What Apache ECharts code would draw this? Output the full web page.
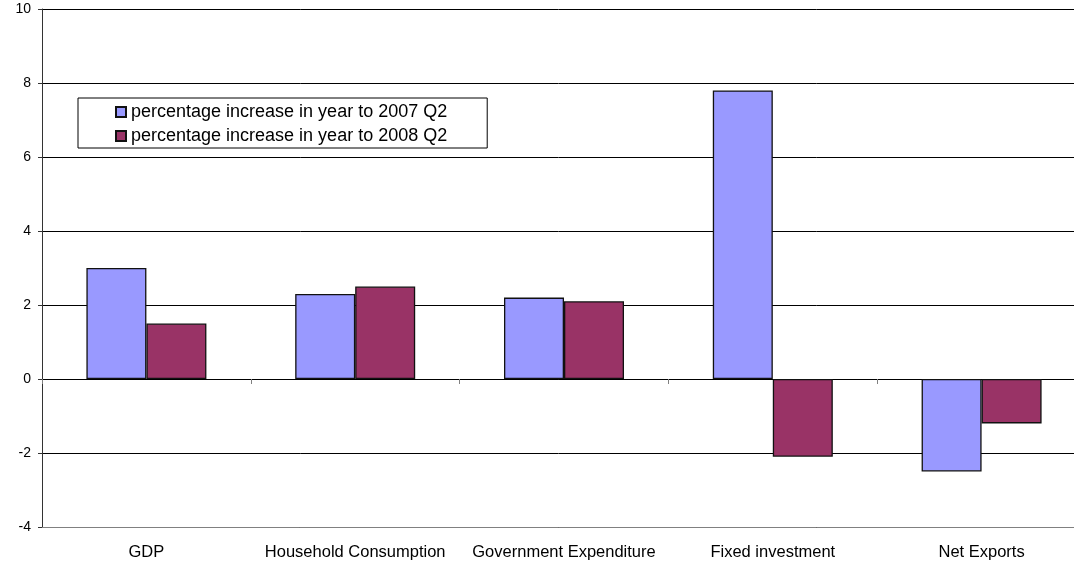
<!DOCTYPE html>
<html>
<head>
<meta charset="utf-8">
<script src="https://cdn.jsdelivr.net/npm/echarts@6/dist/echarts.min.js"></script>
<style>
  html, body { margin: 0; padding: 0; background: #fff; }
  #chart { width: 1074px; height: 563px; }
</style>
</head>
<body>
<div id="chart"></div>
<script>
  var categories = ['GDP', 'Household Consumption', 'Government Expenditure', 'Fixed investment', 'Net Exports'];
  var seriesNames = ['percentage increase in year to 2007 Q2', 'percentage increase in year to 2008 Q2'];
  var values2007 = [3.0, 2.3, 2.2, 7.8, -2.5];
  var values2008 = [1.5, 2.5, 2.1, -2.1, -1.2];

  var myChart = echarts.init(document.getElementById('chart'));
  var font = 'Liberation Sans, Arial, sans-serif';

  myChart.setOption({
    animation: false,
    backgroundColor: '#fff',
    grid: {
      left: 42,
      top: 9,
      height: 518,
      width: 1044,
      outerBoundsMode: 'none'
    },
    legend: {
      orient: 'vertical',
      left: 78,
      top: 98,
      padding: [5, 40, 3, 37],
      itemGap: 6,
      itemWidth: 10,
      itemHeight: 10,
      borderColor: '#000',
      borderWidth: 1,
      icon: 'rect',
      textStyle: {
        fontFamily: font,
        fontSize: 18,
        color: '#000'
      },
      data: seriesNames
    },
    xAxis: [{
      // axis drawn through zero, ticks only
      type: 'category',
      data: categories,
      axisLine: { onZero: true, lineStyle: { color: '#000', width: 1 } },
      axisTick: { show: true, length: 5, lineStyle: { color: '#808080' } },
      axisLabel: { show: false },
      splitLine: { show: false }
    }, {
      // bottom axis carries the labels
      type: 'category',
      data: categories,
      position: 'bottom',
      axisLine: { onZero: false, lineStyle: { color: '#808080', width: 1 } },
      axisTick: { show: false },
      axisLabel: {
        color: '#000',
        fontFamily: font,
        fontSize: 16.5,
        margin: 17,
        interval: 0
      }
    }],
    yAxis: {
      type: 'value',
      min: -4,
      max: 10,
      interval: 2,
      axisLine: { show: true, lineStyle: { color: '#333' } },
      axisTick: { show: true, length: 4, lineStyle: { color: '#333' } },
      axisLabel: {
        color: '#000',
        fontFamily: font,
        fontSize: 14,
        margin: 11
      },
      splitLine: { show: true, lineStyle: { color: '#000', width: 1 } }
    },
    series: [{
      name: seriesNames[0],
      type: 'bar',
      xAxisIndex: 0,
      barWidth: 60,
      barGap: '0%',
      itemStyle: { color: '#9999FF', borderColor: '#111', borderWidth: 1.3 },
      data: values2007
    }, {
      name: seriesNames[1],
      type: 'bar',
      xAxisIndex: 0,
      barWidth: 60,
      barGap: '0%',
      itemStyle: { color: '#993366', borderColor: '#111', borderWidth: 1.3 },
      data: values2008
    }]
  });
</script>
</body>
</html>
